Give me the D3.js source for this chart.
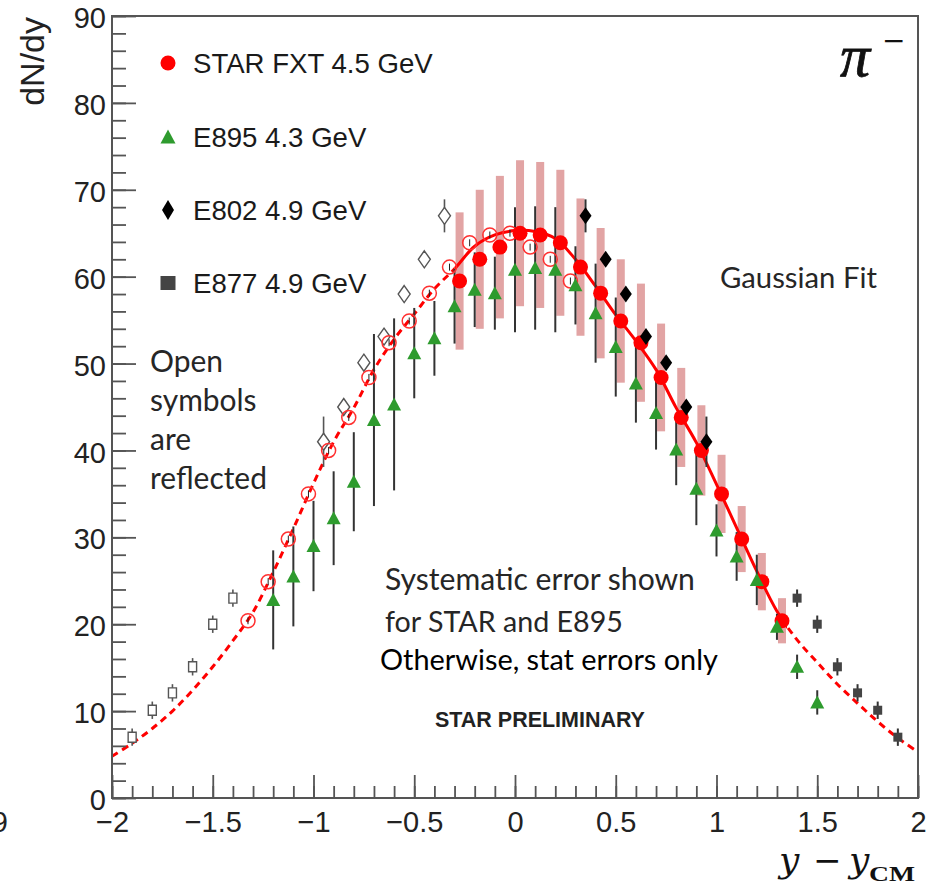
<!DOCTYPE html>
<html><head><meta charset="utf-8">
<script src="https://cdn.jsdelivr.net/npm/d3@7"></script>
<style>body{margin:0;background:#fff;} svg{display:block;}</style>
</head><body>
<svg id="chart" width="938" height="886"></svg>
<script>
// ---------------- DATA ----------------
const starX    = [-0.275,-0.175,-0.075,0.025,0.125,0.225,0.325,0.425,0.525,0.625,0.725,0.825,0.925,1.025,1.125,1.225,1.325];
const starY    = [59.5,62.0,63.4,65.0,64.8,63.9,61.1,58.1,54.9,52.4,48.4,43.8,40.0,35.0,29.8,24.9,20.4];
const starSys  = [7.9,8.0,8.2,8.4,8.4,8.4,7.9,7.5,7.1,6.8,6.2,5.7,5.2,4.5,3.8,3.3,2.6];
const starStat = [0.4,0.4,0.4,0.4,0.4,0.4,0.4,0.4,0.4,0.4,0.4,0.4,0.4,0.4,0.4,0.4,0.4];

const e895X   = [-1.2,-1.1,-1.0,-0.9,-0.8,-0.7,-0.6,-0.5,-0.4,-0.3,-0.2,-0.1,0.0,0.1,0.2,0.3,0.4,0.5,0.6,0.7,0.8,0.9,1.0,1.1,1.2,1.3,1.4,1.5];
const e895Y   = [22.8,25.5,29.0,32.2,36.4,43.5,45.3,51.2,52.9,56.6,58.5,58.1,60.8,61.0,60.8,59.0,55.8,51.9,47.7,44.3,40.1,35.6,30.8,27.8,25.1,19.7,15.1,11.0];
const e895Err = [5.7,5.75,5.2,5.4,5.7,9.9,9.9,5.2,4.3,4.3,4.3,4.2,7.2,7.1,7.2,4.5,5.7,5.7,4.5,4.2,4.1,4.2,3.0,2.8,2.9,1.5,1.4,1.4];

const e802X   = [0.35,0.45,0.55,0.65,0.75,0.85,0.95];
const e802Y   = [67.0,62.0,58.0,53.1,50.1,45.0,41.0];
const e802Err = [1.9,0.7,0.7,0.7,0.7,0.8,2.9];

const e877X   = [1.4,1.5,1.6,1.7,1.8,1.9];
const e877Y   = [23.0,20.0,15.1,12.1,10.1,7.0];
const e877Err = [1.0,1.0,1.0,1.0,1.0,1.0];

const fitX = [-2.0,-1.9,-1.8,-1.7,-1.6,-1.5,-1.4,-1.3,-1.2,-1.1,-1.0,-0.9,-0.8,-0.7,-0.6,-0.5,-0.4,-0.3,-0.2,-0.1,0.0,0.1,0.2,0.3,0.4,0.5,0.6,0.7,0.8,0.9,1.0,1.1,1.2,1.3,1.4,1.5,1.6,1.7,1.8,1.9,2.0];
const fitY = [4.8,6.3,8.0,10.0,12.4,15.1,18.1,21.4,26.0,31.0,36.2,41.0,44.9,49.3,52.8,55.7,58.6,60.9,63.5,64.8,65.3,65.2,64.4,62.0,58.9,55.6,52.6,49.3,44.9,40.9,36.1,31.1,26.1,21.5,18.2,15.6,13.1,10.9,8.8,6.9,5.3];
const fitSolidRange = [-0.3, 1.35];

const xTickValues = [-2,-1.5,-1,-0.5,0,0.5,1,1.5,2];
const xTickLabels = ["\u22122","\u22121.5","\u22121","\u22120.5","0","0.5","1","1.5","2"];
const yTickValues = [0,10,20,30,40,50,60,70,80,90];
const yTickLabels = ["0","10","20","30","40","50","60","70","80","90"];
const legendLabels = ["STAR FXT 4.5 GeV","E895 4.3 GeV","E802 4.9 GeV","E877 4.9 GeV"];

// ---------------- CHART ----------------
const svg = d3.select("#chart");
const x = d3.scaleLinear().domain([-2,2]).range([112,918]);
const y = d3.scaleLinear().domain([0,90]).range([798,16]);

const RED = "#ff0000", GREEN = "#2e9b2e", PINK = "rgb(226,164,164)", BAR = "#333", AX = "#555";
const SANS = "'Liberation Sans', Arial, sans-serif";
const CAL = "Lato, 'Open Sans', sans-serif";

const star = starX.map((d,i)=>({x:d,y:starY[i],sys:starSys[i],stat:starStat[i]}));
const starRefl = star.map(d=>({x:-d.x,y:d.y,stat:d.stat}));
const e895 = e895X.map((d,i)=>({x:d,y:e895Y[i],e:e895Err[i]}));
const e802 = e802X.map((d,i)=>({x:d,y:e802Y[i],e:e802Err[i]}));
const e802R = e802.map(d=>({x:-d.x,y:d.y,e:d.e}));
const e877 = e877X.map((d,i)=>({x:d,y:e877Y[i],e:e877Err[i]}));
const e877R = e877.map(d=>({x:-d.x,y:d.y,e:d.e}));
const fit = fitX.map((d,i)=>({x:d,y:fitY[i]}));

// clip paths
const defs = svg.append("defs");
defs.append("clipPath").attr("id","plot").append("rect")
  .attr("x",x(-2)).attr("y",y(90)).attr("width",x(2)-x(-2)).attr("height",y(0)-y(90));
defs.append("clipPath").attr("id","solid").append("rect")
  .attr("x",x(fitSolidRange[0])).attr("y",0).attr("width",x(fitSolidRange[1])-x(fitSolidRange[0])).attr("height",886);
const outer = defs.append("clipPath").attr("id","dashed");
outer.append("rect").attr("x",0).attr("y",0).attr("width",x(fitSolidRange[0])).attr("height",886);
outer.append("rect").attr("x",x(fitSolidRange[1])).attr("y",0).attr("width",938-x(fitSolidRange[1])).attr("height",886);

const plot = svg.append("g").attr("clip-path","url(#plot)");

// systematic boxes
plot.append("g").selectAll("rect").data(star).join("rect")
  .attr("x",d=>x(d.x)-4).attr("width",8)
  .attr("y",d=>y(d.y+d.sys)).attr("height",d=>y(d.y-d.sys)-y(d.y+d.sys))
  .attr("fill",PINK);

// fit curve
const line = d3.line().x(d=>x(d.x)).y(d=>y(d.y)).curve(d3.curveCatmullRom);
plot.append("path").datum(fit).attr("d",line).attr("fill","none").attr("stroke",RED)
  .attr("stroke-width",3).attr("stroke-dasharray","7,5").attr("clip-path","url(#dashed)");
plot.append("path").datum(fit).attr("d",line).attr("fill","none").attr("stroke",RED)
  .attr("stroke-width",3).attr("clip-path","url(#solid)");

// error bars
function bars(data, key, w, color){
  plot.append("g").selectAll("line").data(data).join("line")
    .attr("x1",d=>x(d.x)).attr("x2",d=>x(d.x))
    .attr("y1",d=>y(d.y+d[key])).attr("y2",d=>y(d.y-d[key]))
    .attr("stroke",color).attr("stroke-width",w);
}
bars(e895,"e",2,BAR);
bars(e802,"e",2,BAR);
bars(e802R,"e",1.6,"#555");
bars(e877,"e",2,BAR);
bars(e877R,"e",1.6,"#555");

// marker shapes
const tri = (w,h)=>`M0,${-h/2-1}L${w/2},${h/2}L${-w/2},${h/2}Z`;
const dia = (w,h)=>`M0,${-h/2}L${w/2},0L0,${h/2}L${-w/2},0Z`;

// reflected (open) markers
plot.append("g").selectAll("path").data(e877R).join("path")
  .attr("transform",d=>`translate(${x(d.x)},${y(d.y)})`)
  .attr("d","M-4,-5H4V5H-4Z").attr("fill","#fff").attr("stroke","#555").attr("stroke-width",1.4);
plot.append("g").selectAll("path").data(e802R).join("path")
  .attr("transform",d=>`translate(${x(d.x)},${y(d.y)})`)
  .attr("d",dia(12,17)).attr("fill","#fff").attr("stroke","#555").attr("stroke-width",1.4);
plot.append("g").selectAll("circle").data(starRefl).join("circle")
  .attr("cx",d=>x(d.x)).attr("cy",d=>y(d.y)).attr("r",7)
  .attr("fill","none").attr("stroke","#ff3030").attr("stroke-width",1.5);
plot.append("g").selectAll("line").data(starRefl).join("line")
  .attr("x1",d=>x(d.x)).attr("x2",d=>x(d.x))
  .attr("y1",d=>y(d.y+d.stat)).attr("y2",d=>y(d.y-d.stat))
  .attr("stroke","#222").attr("stroke-width",1);

// STAR filled
plot.append("g").selectAll("circle").data(star).join("circle")
  .attr("cx",d=>x(d.x)).attr("cy",d=>y(d.y)).attr("r",7.5).attr("fill",RED);

// E895 triangles
plot.append("g").selectAll("path").data(e895).join("path")
  .attr("transform",d=>`translate(${x(d.x)},${y(d.y)})`)
  .attr("d",tri(14,12)).attr("fill",GREEN);

// E802 diamonds
plot.append("g").selectAll("path").data(e802).join("path")
  .attr("transform",d=>`translate(${x(d.x)},${y(d.y)})`)
  .attr("d",dia(12,17)).attr("fill","#000");

// E877 squares
plot.append("g").selectAll("rect").data(e877).join("rect")
  .attr("x",d=>x(d.x)-4.5).attr("y",d=>y(d.y)-4.5).attr("width",9).attr("height",9)
  .attr("fill","#444");

// ---------------- AXES ----------------
function styleAxis(g){
  g.select(".domain").remove();
  g.selectAll(".tick line").attr("stroke",AX).attr("stroke-width",1.8);
  g.selectAll("text").attr("font-family",SANS).attr("font-size",29).attr("fill","#222");
}
svg.append("g").attr("transform","translate(0,798)")
  .call(d3.axisBottom(x).tickValues(d3.range(-20,21).map(d=>d/10)).tickSize(-12).tickSizeOuter(0).tickFormat(""))
  .call(styleAxis);
svg.append("g").attr("transform","translate(0,798)")
  .call(d3.axisBottom(x).tickValues(xTickValues).tickFormat((d,i)=>xTickLabels[i]).tickSize(-23).tickSizeOuter(0).tickPadding(13))
  .call(styleAxis);
svg.append("g").attr("transform","translate(112,0)")
  .call(d3.axisLeft(y).tickValues(d3.range(0,91,2)).tickSize(-14).tickSizeOuter(0).tickFormat(""))
  .call(styleAxis);
const gy = svg.append("g").attr("transform","translate(112,0)")
  .call(d3.axisLeft(y).tickValues(yTickValues).tickFormat((d,i)=>yTickLabels[i]).tickSize(-24).tickSizeOuter(0).tickPadding(6))
  .call(styleAxis);
gy.selectAll("text").attr("dy","0.40em");

// frame
svg.append("rect").attr("x",x(-2)).attr("y",y(90)).attr("width",x(2)-x(-2)).attr("height",y(0)-y(90))
  .attr("fill","none").attr("stroke",AX).attr("stroke-width",2);

// stray label fragment at left edge
svg.append("text").attr("x",8).attr("y",832).attr("text-anchor","end")
  .attr("font-family",SANS).attr("font-size",29).attr("fill","#222").text("9");

// axis titles
svg.append("text").attr("transform","translate(44,17) rotate(-90)").attr("text-anchor","end")
  .attr("font-family",SANS).attr("font-size",34).attr("fill","#222").text("dN/dy");

const SERIF = "'DejaVu Serif', 'Liberation Serif', serif";
const LSERIF = "'Liberation Serif', 'DejaVu Serif', serif";
svg.append("text").attr("x",779).attr("y",872).attr("font-family",SERIF).attr("font-style","italic")
  .attr("font-size",36).attr("fill","#111").text("y");
svg.append("text").attr("x",813).attr("y",872).attr("font-family",SERIF)
  .attr("font-size",34).attr("fill","#111").text("\u2212");
svg.append("text").attr("x",849).attr("y",872).attr("font-family",SERIF).attr("font-style","italic")
  .attr("font-size",36).attr("fill","#111").text("y");
svg.append("text").attr("x",869).attr("y",881).attr("font-family",LSERIF).attr("font-weight","bold")
  .attr("font-size",22).attr("textLength",46).attr("lengthAdjust","spacingAndGlyphs")
  .attr("fill","#111").text("CM");

// pi minus
svg.append("text").attr("x",840).attr("y",76).attr("font-family",LSERIF).attr("font-style","italic")
  .attr("font-size",60).attr("fill","#111").attr("stroke","#111").attr("stroke-width",0.8).text("\u03c0");
svg.append("text").attr("x",882).attr("y",50).attr("font-family",SERIF)
  .attr("font-size",28).attr("fill","#111").text("\u2212");

// ---------------- LEGEND ----------------
const legY = [63,137,210,283];
const lg = svg.append("g");
lg.append("circle").attr("cx",168).attr("cy",legY[0]).attr("r",7.5).attr("fill",RED);
lg.append("path").attr("transform",`translate(168,${legY[1]})`).attr("d",tri(15,13)).attr("fill",GREEN);
lg.append("path").attr("transform",`translate(168,${legY[2]})`).attr("d",dia(12,20)).attr("fill","#000");
lg.append("rect").attr("x",160.5).attr("y",legY[3]-7).attr("width",15).attr("height",14).attr("fill","#444");
legendLabels.forEach((t,i)=>{
  lg.append("text").attr("x",193).attr("y",legY[i]+10.3).attr("font-family",SANS)
    .attr("font-size",27.6).attr("fill","#1a1a1a").text(t);
});

// ---------------- ANNOTATIONS ----------------
function fitWidth(sel,w){
  const L = sel.node().getComputedTextLength();
  const fs = parseFloat(sel.attr("font-size"));
  sel.attr("font-size", fs*w/L);
  return fs*w/L;
}
function note(t,xp,yp,w,color,fam,weight){
  const s = svg.append("text").attr("x",xp).attr("y",yp).attr("font-family",fam||CAL)
    .attr("font-size",28).attr("fill",color||"#262626").attr("font-weight",weight||"normal").text(t);
  if(w) fitWidth(s,w);
  return s;
}
note("Gaussian Fit",720,288,157);
const rf = note("reflected",150,489,117);
const fsr = parseFloat(rf.attr("font-size"));
note("Open",150,372).attr("font-size",fsr);
note("symbols",150,411).attr("font-size",fsr);
note("are",150,450).attr("font-size",fsr);
note("Systematic error shown",385,590,310);
note("for STAR and E895",385,632,238);
note("Otherwise, stat errors only",380,670,338,"#000");
note("STAR PRELIMINARY",435,727,210,"#222",SANS,"bold");
</script>
</body></html>
